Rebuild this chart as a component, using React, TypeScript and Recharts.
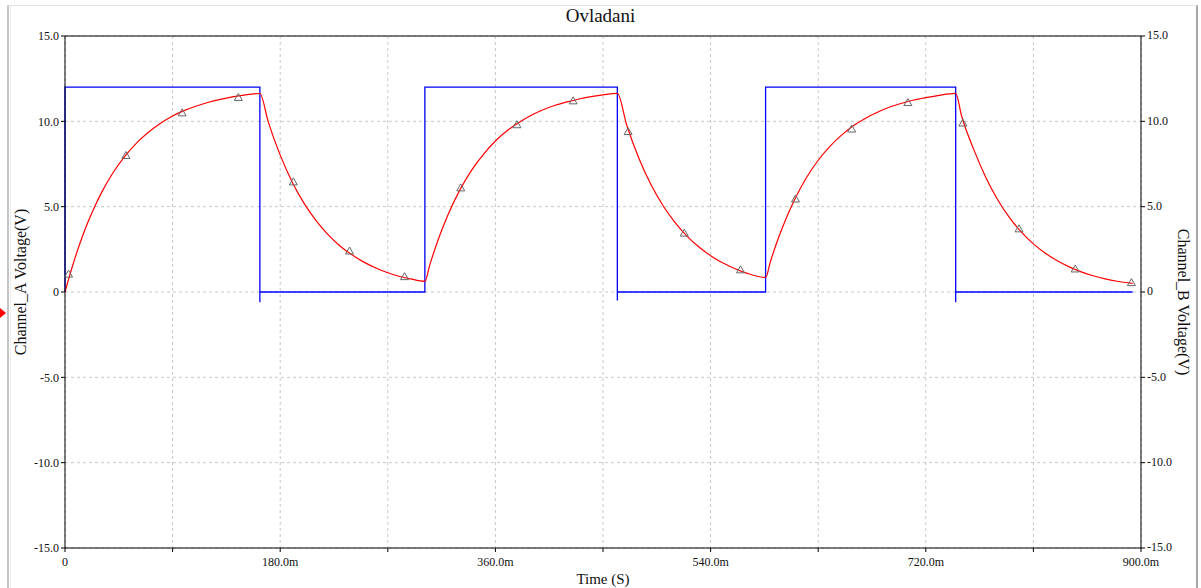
import React from "react";
import {
    ComposedChart,
    Line,
    Scatter,
    XAxis,
    YAxis,
    CartesianGrid,
    ReferenceLine
} from "recharts";

// time in ms, voltages in V
const timeTicks = [0, 90, 180, 270, 360, 450, 540, 630, 720, 810, 900];
const voltTicks = [-15, -10, -5, 0, 5, 10, 15];

// Channel_B : square drive (blue)
const blueTime = [0, 0, 163, 163, 163, 301, 301, 462, 462, 462, 586, 586, 745, 745, 745, 745, 893];
const blueVolt = [0, 12, 12, -0.6, 0, 0, 12, 12, -0.5, 0, 0, 12, 12, -0.6, 0.3, 0, 0];

// Channel_A : capacitor voltage (red)
const redTime = [
    0, 5, 10, 15, 20, 25, 30, 40, 50, 60, 70, 80, 90, 100, 110, 120, 130, 140, 150, 163,
    170, 180, 190, 200, 210, 220, 230, 240, 250, 260, 270, 280, 290, 301,
    305, 310, 315, 320, 330, 340, 350, 360, 370, 380, 390, 400, 410, 420, 430, 440, 450, 462,
    470, 480, 490, 500, 510, 520, 530, 540, 550, 560, 570, 586,
    590, 595, 600, 610, 620, 630, 640, 650, 660, 670, 680, 690, 700, 710, 720, 730, 745,
    750, 760, 770, 780, 790, 800, 810, 820, 830, 840, 850, 860, 870, 880, 893
];
const redVolt = [
    0, 1.23, 2.34, 3.34, 4.23, 5.03, 5.75, 6.97, 7.95, 8.74, 9.38, 9.89, 10.31, 10.64, 10.9, 11.12, 11.29, 11.43, 11.54, 11.63,
    9.97, 8.02, 6.45, 5.19, 4.18, 3.36, 2.7, 2.18, 1.75, 1.41, 1.13, 0.91, 0.75, 0.62,
    1.56, 2.64, 3.6, 4.47, 5.94, 7.13, 8.07, 8.85, 9.46, 9.95, 10.36, 10.68, 10.94, 11.14, 11.31, 11.45, 11.55, 11.64,
    9.74, 7.84, 6.31, 5.08, 4.09, 3.29, 2.65, 2.13, 1.71, 1.38, 1.11, 0.85,
    1.77, 2.83, 3.77, 5.38, 6.68, 7.72, 8.55, 9.22, 9.77, 10.2, 10.55, 10.84, 11.06, 11.25, 11.39, 11.51, 11.64,
    10.3, 8.37, 6.74, 5.42, 4.36, 3.51, 2.82, 2.27, 1.83, 1.47, 1.18, 0.95, 0.77, 0.63, 0.5
];

// triangle markers on the red trace
const markTime = [3, 51, 98, 145, 191, 238, 284, 331, 378, 425, 471, 518, 565, 611, 658, 705, 751, 798, 845, 892];
const markVolt = [1.05, 8.0, 10.5, 11.4, 6.45, 2.4, 0.9, 6.1, 9.8, 11.2, 9.4, 3.45, 1.3, 5.45, 9.55, 11.1, 9.9, 3.7, 1.35, 0.55];

const blueData = blueTime.map((t, i) => ({ t, v: blueVolt[i] }));
const redData = redTime.map((t, i) => ({ t, v: redVolt[i] }));
const markData = markTime.map((t, i) => ({ t, v: markVolt[i] }));

const serif = "'Liberation Serif', 'DejaVu Serif', serif";
const tickStyle = { fontSize: 12, fill: "#111", fontFamily: serif };

const fmtTime = (v: number) => {
    if (v === 0) return "0";
    if (v % 180 !== 0) return "";
    return `${v.toFixed(1)}m`;
};
const fmtVolt = (v: number) => (v === 0 ? "0" : v.toFixed(1));

const Triangle = (props: any) => {
    const { cx, cy } = props;
    if (cx == null || cy == null) return null;
    return (
        <path
            d={`M${cx},${cy - 4} L${cx + 4},${cy + 3} L${cx - 4},${cy + 3} Z`}
            fill="none"
            stroke="#666"
            strokeWidth={1}
        />
    );
};

export default function App() {
    return (
        <div style={{ position: "absolute", left: 0, top: 0, width: 1201, height: 588, background: "#fff", fontFamily: serif }}>
            {/* window frame */}
            <div style={{ position: "absolute", left: 7, top: 5, width: 1187, height: 583, borderLeft: "2px solid #c4c4c4", borderTop: "1px solid #e4e4e4", borderRight: "2px solid #a8a8a8" }} />
            <div style={{ position: "absolute", left: 10, top: 6, width: 1, height: 582, background: "#ececec" }} />

            <div style={{ position: "absolute", left: 0, width: 1201, top: 5, textAlign: "center", fontSize: 19, color: "#111" }}>
                Ovladani
            </div>

            <ComposedChart
                width={1201}
                height={588}
                margin={{ top: 36, right: 0, bottom: 0, left: 0 }}
                style={{ position: "absolute", left: 0, top: 0 }}
            >
                <CartesianGrid stroke="#c8c8c8" strokeDasharray="3 3" verticalValues={timeTicks} horizontalValues={voltTicks} yAxisId="left" />
                <XAxis
                    dataKey="t"
                    type="number"
                    domain={[0, 900]}
                    ticks={timeTicks}
                    tickFormatter={fmtTime}
                    interval={0}
                    height={40}
                    stroke="#000"
                    tickSize={4}
                    tick={{ ...tickStyle, dy: 3 }}
                    allowDuplicatedCategory
                />
                <YAxis
                    yAxisId="left"
                    type="number"
                    domain={[-15, 15]}
                    ticks={voltTicks}
                    tickFormatter={fmtVolt}
                    width={65}
                    stroke="#000"
                    tickSize={4}
                    tick={tickStyle}
                />
                <YAxis
                    yAxisId="right"
                    orientation="right"
                    type="number"
                    domain={[-15, 15]}
                    ticks={voltTicks}
                    tickFormatter={fmtVolt}
                    width={60}
                    stroke="#000"
                    tickSize={4}
                    tick={{ ...tickStyle, dy: -1 }}
                />
                <ReferenceLine yAxisId="left" y={15} stroke="#000" strokeWidth={1} />
                <Line
                    yAxisId="right"
                    data={blueData}
                    dataKey="v"
                    type="linear"
                    stroke="#0000ff"
                    strokeWidth={1.3}
                    dot={false}
                    isAnimationActive={false}
                />
                <Line
                    yAxisId="left"
                    data={redData}
                    dataKey="v"
                    type="monotone"
                    stroke="#ff0000"
                    strokeWidth={1.2}
                    dot={false}
                    isAnimationActive={false}
                />
                <Scatter
                    yAxisId="left"
                    data={markData}
                    dataKey="v"
                    shape={<Triangle />}
                    isAnimationActive={false}
                />
            </ComposedChart>

            {/* axis titles */}
            <div style={{ position: "absolute", left: 21, top: 282, transform: "translate(-50%, -50%) rotate(-90deg)", whiteSpace: "nowrap", fontSize: 16, color: "#111" }}>
                Channel_A Voltage(V)
            </div>
            <div style={{ position: "absolute", left: 1183, top: 302, transform: "translate(-50%, -50%) rotate(90deg)", whiteSpace: "nowrap", fontSize: 16, color: "#111" }}>
                Channel_B Voltage(V)
            </div>
            <div style={{ position: "absolute", left: 603, top: 579, transform: "translate(-50%, -50%)", whiteSpace: "nowrap", fontSize: 15, color: "#111" }}>
                Time (S)
            </div>
            {/* cursor marker */}
            <div style={{ position: "absolute", left: 0, top: 308, width: 0, height: 0, borderTop: "5px solid transparent", borderBottom: "5px solid transparent", borderLeft: "6px solid #ff0000" }} />
        </div>
    );
}
